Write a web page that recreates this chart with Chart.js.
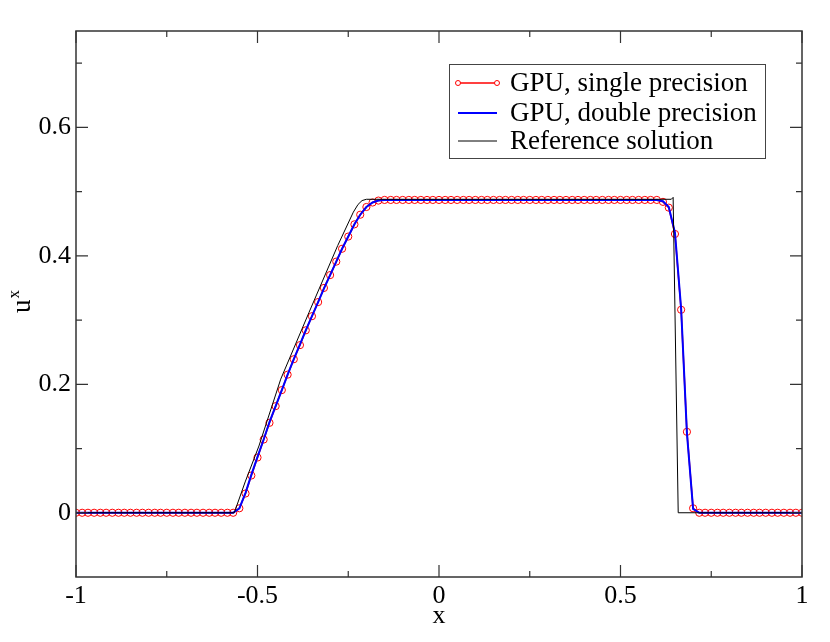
<!DOCTYPE html>
<html>
<head>
<meta charset="utf-8">
<script src="https://cdn.jsdelivr.net/npm/chart.js@4"></script>
<style>
    body { margin: 0; background: #fff; }
    #wrap { width: 830px; height: 642px; }
</style>
</head>
<body>
<div id="wrap"><canvas id="uxChart"></canvas></div>
<script>
// grid points of the GPU runs (dx = 1/60)
const gridX = [
    -1.000, -0.983, -0.967, -0.950, -0.933, -0.917, -0.900, -0.883, -0.867, -0.850,
    -0.833, -0.817, -0.800, -0.783, -0.767, -0.750, -0.733, -0.717, -0.700, -0.683,
    -0.667, -0.650, -0.633, -0.617, -0.600, -0.583, -0.567, -0.550, -0.533, -0.517,
    -0.500, -0.483, -0.467, -0.450, -0.433, -0.417, -0.400, -0.383, -0.367, -0.350,
    -0.333, -0.317, -0.300, -0.283, -0.267, -0.250, -0.233, -0.217, -0.200, -0.183,
    -0.167, -0.150, -0.133, -0.117, -0.100, -0.083, -0.067, -0.050, -0.033, -0.017,
    0.000, 0.017, 0.033, 0.050, 0.067, 0.083, 0.100, 0.117, 0.133, 0.150,
    0.167, 0.183, 0.200, 0.217, 0.233, 0.250, 0.267, 0.283, 0.300, 0.317,
    0.333, 0.350, 0.367, 0.383, 0.400, 0.417, 0.433, 0.450, 0.467, 0.483,
    0.500, 0.517, 0.533, 0.550, 0.567, 0.583, 0.600, 0.617, 0.633, 0.650,
    0.667, 0.683, 0.700, 0.717, 0.733, 0.750, 0.767, 0.783, 0.800, 0.817,
    0.833, 0.850, 0.867, 0.883, 0.900, 0.917, 0.933, 0.950, 0.967, 0.983,
    1.000
];

const singleY = [
    0, 0, 0, 0, 0, 0, 0, 0, 0, 0,
    0, 0, 0, 0, 0, 0, 0, 0, 0, 0,
    0, 0, 0, 0, 0, 0, 0, 0.007, 0.030, 0.058,
    0.086, 0.114, 0.140, 0.166, 0.191, 0.215, 0.239, 0.261, 0.284, 0.306,
    0.328, 0.350, 0.370, 0.391, 0.411, 0.430, 0.449, 0.464, 0.476, 0.483,
    0.486, 0.487, 0.487, 0.487, 0.487, 0.487, 0.487, 0.487, 0.487, 0.487,
    0.487, 0.487, 0.487, 0.487, 0.487, 0.487, 0.487, 0.487, 0.487, 0.487,
    0.487, 0.487, 0.487, 0.487, 0.487, 0.487, 0.487, 0.487, 0.487, 0.487,
    0.487, 0.487, 0.487, 0.487, 0.487, 0.487, 0.487, 0.487, 0.487, 0.487,
    0.487, 0.487, 0.487, 0.487, 0.487, 0.487, 0.487, 0.484, 0.475, 0.434,
    0.316, 0.126, 0.007, 0, 0, 0, 0, 0, 0, 0,
    0, 0, 0, 0, 0, 0, 0, 0, 0, 0,
    0
];

const doubleY = [
    0, 0, 0, 0, 0, 0, 0, 0, 0, 0,
    0, 0, 0, 0, 0, 0, 0, 0, 0, 0,
    0, 0, 0, 0, 0, 0, 0, 0.007, 0.031, 0.059,
    0.087, 0.114, 0.141, 0.166, 0.191, 0.215, 0.239, 0.262, 0.284, 0.306,
    0.328, 0.349, 0.370, 0.391, 0.411, 0.430, 0.449, 0.464, 0.476, 0.483,
    0.486, 0.487, 0.487, 0.487, 0.487, 0.487, 0.487, 0.487, 0.487, 0.487,
    0.487, 0.487, 0.487, 0.487, 0.487, 0.487, 0.487, 0.487, 0.487, 0.487,
    0.487, 0.487, 0.487, 0.487, 0.487, 0.487, 0.487, 0.487, 0.487, 0.487,
    0.487, 0.487, 0.487, 0.487, 0.487, 0.487, 0.487, 0.487, 0.487, 0.487,
    0.487, 0.487, 0.487, 0.487, 0.487, 0.487, 0.487, 0.485, 0.476, 0.436,
    0.318, 0.124, 0.006, 0, 0, 0, 0, 0, 0, 0,
    0, 0, 0, 0, 0, 0, 0, 0, 0, 0,
    0
];

const refX = [-1, -0.564, -0.534, -0.496, -0.436, -0.358, -0.279, -0.236, -0.223, -0.212, -0.200, 0.640, 0.645, 0.659, 1];
const refY = [0, 0, 0.048, 0.104, 0.208, 0.312, 0.416, 0.468, 0.480, 0.486, 0.488, 0.488, 0.491, 0, 0];

const xTicks = [-1, -0.5, 0, 0.5, 1];
const xMinor = [-0.75, -0.25, 0.25, 0.75];
const yTicks = [0, 0.2, 0.4, 0.6];
const yMinor = [0.1, 0.3, 0.5, 0.7];

const seriesNames = ['GPU, single precision', 'GPU, double precision', 'Reference solution'];

const FONT = '"Liberation Serif", "Times New Roman", serif';

function toPoints(xs, ys) {
    return xs.map((x, i) => ({ x: x, y: ys[i] }));
}

// frame + inward ticks on all four sides, axis titles, boxed legend
const gracePlugin = {
    id: 'grace',
    afterDraw(chart) {
        const ctx = chart.ctx;
        const a = chart.chartArea;
        const sx = chart.scales.x, sy = chart.scales.y;

        ctx.save();
        ctx.strokeStyle = '#333';
        ctx.lineWidth = 1.5;
        ctx.strokeRect(a.left, a.top, a.right - a.left, a.bottom - a.top);

        ctx.lineWidth = 1.2;
        ctx.beginPath();
        [[xTicks, 12], [xMinor, 6]].forEach(([vals, len]) => {
            vals.forEach(v => {
                const px = sx.getPixelForValue(v);
                ctx.moveTo(px, a.bottom); ctx.lineTo(px, a.bottom - len);
                ctx.moveTo(px, a.top); ctx.lineTo(px, a.top + len);
            });
        });
        [[yTicks, 12], [yMinor, 6]].forEach(([vals, len]) => {
            vals.forEach(v => {
                const py = sy.getPixelForValue(v);
                ctx.moveTo(a.left, py); ctx.lineTo(a.left + len, py);
                ctx.moveTo(a.right, py); ctx.lineTo(a.right - len, py);
            });
        });
        ctx.stroke();

        // axis titles
        ctx.fillStyle = '#000';
        ctx.font = '26px ' + FONT;
        ctx.textAlign = 'center';
        ctx.textBaseline = 'alphabetic';
        ctx.fillText('x', (a.left + a.right) / 2, 623);

        ctx.save();
        ctx.translate(30, 302);
        ctx.rotate(-Math.PI / 2);
        ctx.textAlign = 'left';
        ctx.font = '27px ' + FONT;
        const uw = ctx.measureText('u').width;
        ctx.font = '17px ' + FONT;
        const xw = ctx.measureText('x').width;
        const start = -(uw + xw) / 2;
        ctx.font = '27px ' + FONT;
        ctx.fillText('u', start, 0);
        ctx.font = '17px ' + FONT;
        ctx.fillText('x', start + uw + 1, -11);
        ctx.restore();

        // legend
        const box = { left: 449, top: 64, right: 765, bottom: 158 };
        ctx.fillStyle = '#fff';
        ctx.fillRect(box.left, box.top, box.right - box.left, box.bottom - box.top);
        ctx.strokeStyle = '#444';
        ctx.lineWidth = 1;
        ctx.strokeRect(box.left + 0.5, box.top + 0.5, box.right - box.left, box.bottom - box.top);

        const rows = [83, 113, 141];
        chart.data.datasets.forEach((ds, i) => {
            const y = rows[i];
            ctx.strokeStyle = ds.borderColor;
            ctx.lineWidth = ds.borderWidth;
            ctx.beginPath();
            ctx.moveTo(458, y); ctx.lineTo(497, y);
            ctx.stroke();
            if (ds.pointRadius > 0) {
                ctx.lineWidth = 1;
                [458, 497].forEach(px => {
                    ctx.beginPath();
                    ctx.arc(px, y, 2.5, 0, Math.PI * 2);
                    ctx.fillStyle = '#fff';
                    ctx.fill();
                    ctx.stroke();
                });
            }
            ctx.fillStyle = '#000';
            ctx.font = '27px ' + FONT;
            ctx.textAlign = 'left';
            ctx.textBaseline = 'middle';
            ctx.fillText(ds.label, 510, y + 1);
        });
        ctx.restore();
    }
};

const chart = new Chart(document.getElementById('uxChart').getContext('2d'), {
    type: 'line',
    data: {
        datasets: [{
            label: seriesNames[0],
            data: toPoints(gridX, singleY),
            borderColor: '#ff0000',
            borderWidth: 1.5,
            pointRadius: 3.6,
            pointBorderWidth: 1,
            pointBorderColor: '#ff0000',
            pointBackgroundColor: 'rgba(0,0,0,0)',
            order: 3
        }, {
            label: seriesNames[1],
            data: toPoints(gridX, doubleY),
            borderColor: '#0000ff',
            borderWidth: 2,
            pointRadius: 0,
            order: 2
        }, {
            label: seriesNames[2],
            data: toPoints(refX, refY),
            borderColor: '#000000',
            borderWidth: 1,
            pointRadius: 0,
            order: 1
        }]
    },
    options: {
        responsive: true,
        maintainAspectRatio: false,
        animation: false,
        layout: { padding: { left: 0, right: 28, top: 31, bottom: 0 } },
        plugins: { legend: { display: false }, tooltip: { enabled: false } },
        scales: {
            x: {
                type: 'linear', min: -1, max: 1,
                afterBuildTicks: s => { s.ticks = xTicks.map(v => ({ value: v })); },
                afterFit: s => { s.height = 65; },
                grid: { display: false, drawTicks: false },
                border: { display: false },
                ticks: { color: '#000', padding: 4, font: { family: FONT, size: 26 }, callback: v => String(v) }
            },
            y: {
                type: 'linear', min: -0.1, max: 0.75,
                afterBuildTicks: s => { s.ticks = yTicks.map(v => ({ value: v })); },
                afterFit: s => { s.width = 76; },
                grid: { display: false, drawTicks: false },
                border: { display: false },
                ticks: { color: '#000', padding: 5, font: { family: FONT, size: 26 }, callback: v => String(v) }
            }
        }
    },
    plugins: [gracePlugin]
});
</script>
</body>
</html>
